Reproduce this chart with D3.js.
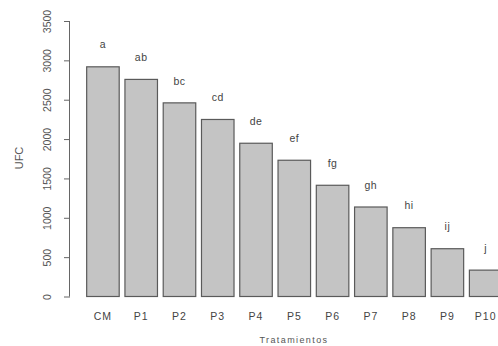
<!DOCTYPE html>
<html><head><meta charset="utf-8">
<script src="https://cdn.jsdelivr.net/npm/d3@7"></script>
<style>body{margin:0;background:#fff;} svg{display:block;}</style>
</head><body>
<svg id="c" width="498" height="346"></svg>
<script>
const categories = ["CM","P1","P2","P3","P4","P5","P6","P7","P8","P9","P10"];
const values = [2918, 2758, 2460, 2249, 1947, 1731, 1413, 1137, 874, 607, 335];
const letters = ["a","ab","bc","cd","de","ef","fg","gh","hi","ij","j"];
const yTicks = [0,500,1000,1500,2000,2500,3000,3500];

const svg = d3.select("#c");
const font = "Liberation Sans, Arial, sans-serif";
const y = d3.scaleLinear().domain([0,3500]).range([296.5,21]);
const x = d3.scaleBand().domain(categories).range([83.8,504.8]).paddingInner(0.15).paddingOuter(0.075);

svg.selectAll("rect.bar").data(values).join("rect")
  .attr("class","bar")
  .attr("x",(d,i)=>x(categories[i]))
  .attr("y",d=>y(d))
  .attr("width",x.bandwidth())
  .attr("height",d=>y(0)-y(d))
  .attr("fill","#c4c4c4").attr("stroke","#5a5a5a").attr("stroke-width",1.2);

svg.selectAll("text.let").data(values).join("text")
  .attr("class","let")
  .attr("x",(d,i)=>x(categories[i])+x.bandwidth()/2)
  .attr("y",d=>y(d)-22)
  .attr("dy","0.35em")
  .attr("text-anchor","middle")
  .attr("font-family",font).attr("font-size",10.5).attr("letter-spacing",0.5).attr("fill","#444")
  .text((d,i)=>letters[i]);

// y axis
const yAxis = d3.axisLeft(y).tickValues(yTicks).tickSize(6).tickFormat(d3.format("d"));
const ga = svg.append("g").attr("transform","translate(70,0)").call(yAxis);
ga.select(".domain").attr("stroke","#666").attr("d",`M-0.5,${y(0)}V${y(3500)}`);
ga.selectAll(".tick line").attr("stroke","#666");
ga.selectAll(".tick text")
  .attr("font-family",font).attr("font-size",10.5).attr("fill","#555")
  .attr("x",0).attr("y",0).attr("dy","0").attr("text-anchor","middle")
  .attr("transform","translate(-19,0) rotate(-90)");

// x axis labels (no axis line)
svg.selectAll("text.xl").data(categories).join("text")
  .attr("class","xl")
  .attr("x",d=>x(d)+x.bandwidth()/2)
  .attr("y",316.5).attr("dy","0.35em")
  .attr("text-anchor","middle")
  .attr("font-family",font).attr("font-size",10.5).attr("letter-spacing",1).attr("fill","#444")
  .text(d=>d);

svg.append("text").attr("x",294).attr("y",340).attr("dy","0.35em")
  .attr("text-anchor","middle").attr("font-family",font).attr("font-size",9).attr("letter-spacing",1.4).attr("fill","#555")
  .text("Tratamientos");

svg.append("text").attr("transform","translate(19,158) rotate(-90)")
  .attr("dy","0.35em").attr("text-anchor","middle")
  .attr("font-family",font).attr("font-size",11).attr("fill","#555")
  .text("UFC");
</script>
</body></html>
